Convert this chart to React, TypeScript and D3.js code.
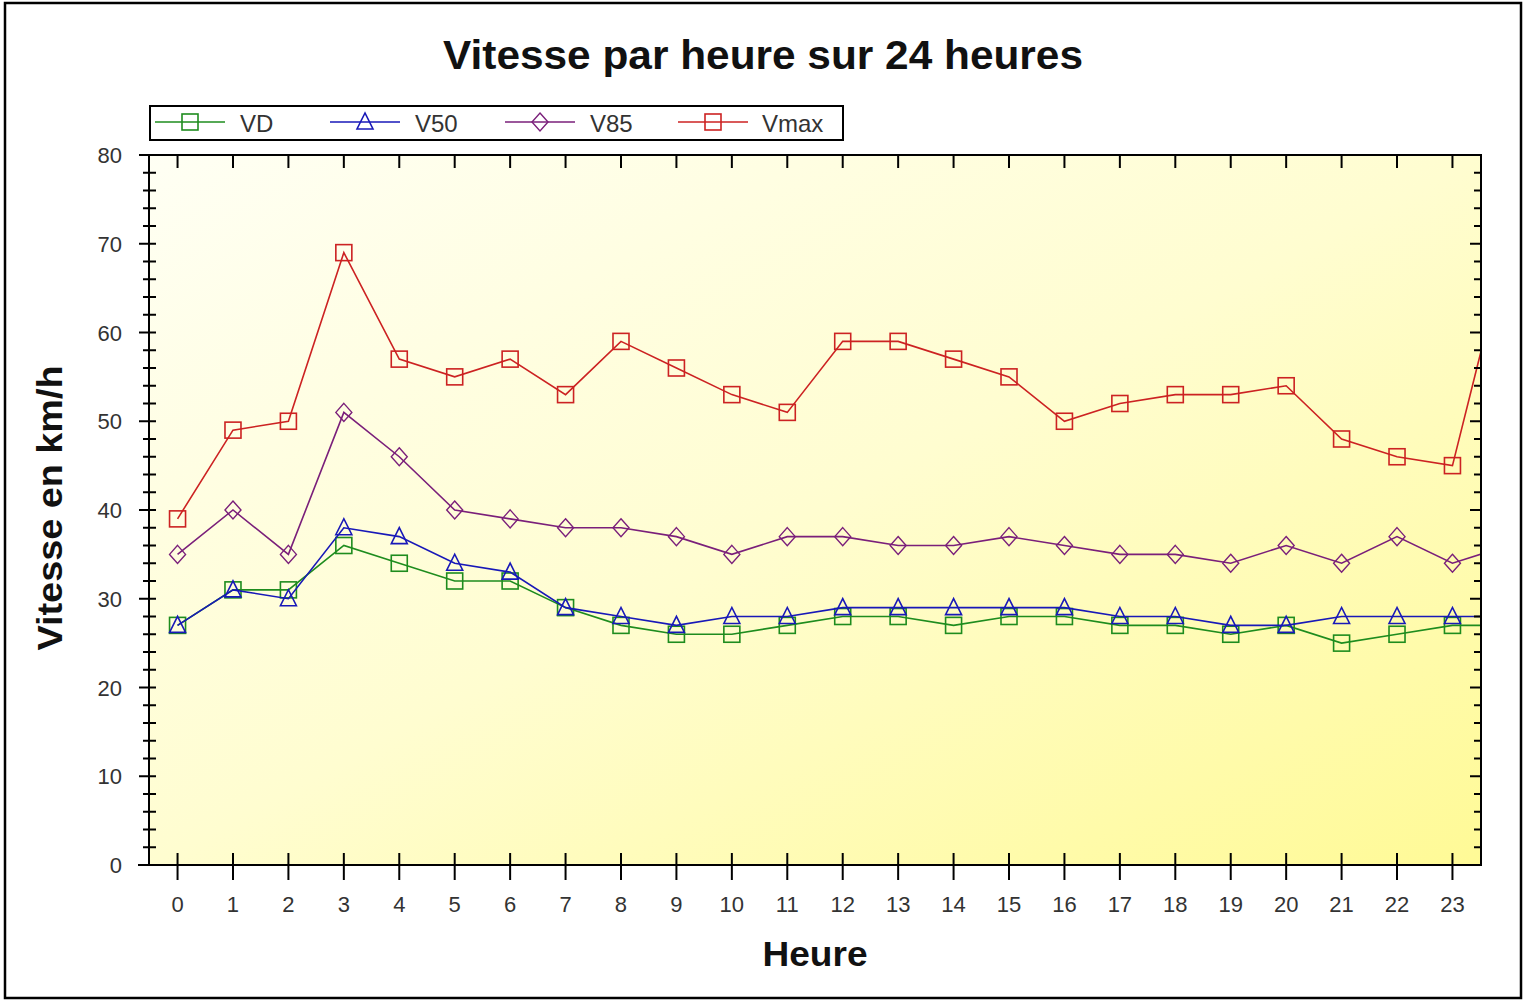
import React from "react";
import * as d3 from "d3";

const hours = d3.range(0, 25); // 0..23 plus a clipped 24th point
const hourTicks = d3.range(0, 24);
const yTicks = [0, 10, 20, 30, 40, 50, 60, 70, 80];

const VD = [27, 31, 31, 36, 34, 32, 32, 29, 27, 26, 26, 27, 28, 28, 27, 28, 28, 27, 27, 26, 27, 25, 26, 27, 27];
const V50 = [27, 31, 30, 38, 37, 34, 33, 29, 28, 27, 28, 28, 29, 29, 29, 29, 29, 28, 28, 27, 27, 28, 28, 28, 28];
const V85 = [35, 40, 35, 51, 46, 40, 39, 38, 38, 37, 35, 37, 37, 36, 36, 37, 36, 35, 35, 34, 36, 34, 37, 34, 36];
const Vmax = [39, 49, 50, 69, 57, 55, 57, 53, 59, 56, 53, 51, 59, 59, 57, 55, 50, 52, 53, 53, 54, 48, 46, 45, 70];

const seriesNames = ["VD", "V50", "V85", "Vmax"];
const seriesValues = [VD, V50, V85, Vmax];
const seriesColors = ["#1e8c1e", "#1818b8", "#7a1f7a", "#cc2222"];
const seriesMarkers = ["square", "triangle", "diamond", "square"];

const L = 149, R = 1481, T = 155, B = 865;

function Marker({ type, x, y, color }: { type: string; x: number; y: number; color: string }) {
  if (type === "square") {
    return <rect x={x - 8} y={y - 8} width={16} height={16} fill="none" stroke={color} strokeWidth={1.6} />;
  }
  if (type === "triangle") {
    const p = `${x},${y - 9} ${x - 8},${y + 7} ${x + 8},${y + 7}`;
    return <polygon points={p} fill="none" stroke={color} strokeWidth={1.6} />;
  }
  const p = `${x},${y - 9} ${x + 8},${y} ${x},${y + 9} ${x - 8},${y}`;
  return <polygon points={p} fill="none" stroke={color} strokeWidth={1.4} />;
}

export default function App() {
  const x = d3.scaleLinear().domain([-0.515, 23.515]).range([L, R]);
  const y = d3.scaleLinear().domain([0, 80]).range([B, T]);
  const line = d3.line<number>().x((_, i) => x(hours[i])).y((d) => y(d));
  const minor = d3.range(0, 81, 2).filter((v) => v % 10 !== 0);
  const font = "'Liberation Sans', Arial, sans-serif";

  const legendX = [155, 330, 505, 678];
  const legendTextX = [240, 415, 590, 762];

  return (
    <svg width={1525} height={1001} style={{ position: "absolute", left: 0, top: 0, background: "#fff" }} fontFamily={font}>
      <defs>
        <linearGradient id="bg" x1="0" y1="0" x2="1" y2="1">
          <stop offset="0" stopColor="#fffff4" />
          <stop offset="0.5" stopColor="#fffdd0" />
          <stop offset="1" stopColor="#fffa96" />
        </linearGradient>
        <clipPath id="clip">
          <rect x={L} y={T} width={R - L} height={B - T} />
        </clipPath>
      </defs>
      <rect x={5} y={3} width={1516} height={995} fill="#fff" stroke="#000" strokeWidth={2.5} />
      <text x={763} y={69} textAnchor="middle" fontSize={40} fontWeight="bold" fill="#111" textLength={640} lengthAdjust="spacingAndGlyphs">
        Vitesse par heure sur 24 heures
      </text>

      {/* Legend */}
      <rect x={150} y={106} width={693} height={34} fill="#fff" stroke="#000" strokeWidth={2} />
      {seriesNames.map((n, i) => (
        <g key={n}>
          <line x1={legendX[i]} x2={legendX[i] + 70} y1={122} y2={122} stroke={seriesColors[i]} strokeWidth={1.6} />
          <Marker type={seriesMarkers[i]} x={legendX[i] + 35} y={122} color={seriesColors[i]} />
          <text x={legendTextX[i]} y={132} fontSize={24} fill="#333">{n}</text>
        </g>
      ))}

      {/* Plot background */}
      <rect x={L} y={T} width={R - L} height={B - T} fill="url(#bg)" />

      {/* Series */}
      <g clipPath="url(#clip)">
        {seriesValues.map((vals, si) => (
          <g key={si}>
            <path d={line(vals) || ""} fill="none" stroke={seriesColors[si]} strokeWidth={1.6} />
            {vals.map((v, i) => (
              <Marker key={i} type={seriesMarkers[si]} x={x(hours[i])} y={y(v)} color={seriesColors[si]} />
            ))}
          </g>
        ))}
      </g>

      {/* Frame */}
      <rect x={L} y={T} width={R - L} height={B - T} fill="none" stroke="#000" strokeWidth={2} />
      <line x1={138} x2={L} y1={B} y2={B} stroke="#000" strokeWidth={2} />

      {/* Y ticks */}
      {yTicks.map((t) => (
        <g key={t}>
          <line x1={139} x2={156} y1={y(t)} y2={y(t)} stroke="#000" strokeWidth={2} />
          <line x1={R - 11} x2={R} y1={y(t)} y2={y(t)} stroke="#000" strokeWidth={2} />
          <text x={122} y={y(t) + 8} textAnchor="end" fontSize={22} fill="#333">{t}</text>
        </g>
      ))}
      {minor.map((t) => (
        <g key={t}>
          <line x1={143} x2={156} y1={y(t)} y2={y(t)} stroke="#000" strokeWidth={2} />
          <line x1={R - 7} x2={R} y1={y(t)} y2={y(t)} stroke="#000" strokeWidth={2} />
        </g>
      ))}

      {/* X ticks */}
      {hourTicks.map((h) => (
        <g key={h}>
          <line x1={x(h)} x2={x(h)} y1={B - 12} y2={B + 15} stroke="#000" strokeWidth={2} />
          <line x1={x(h)} x2={x(h)} y1={T} y2={T + 13} stroke="#000" strokeWidth={2} />
          <text x={x(h)} y={912} textAnchor="middle" fontSize={22} fill="#333">{h}</text>
        </g>
      ))}

      <text x={815} y={966} textAnchor="middle" fontSize={35} fontWeight="bold" fill="#111" textLength={105} lengthAdjust="spacingAndGlyphs">Heure</text>
      <text transform="translate(62,508) rotate(-90)" textAnchor="middle" fontSize={35} fontWeight="bold" fill="#111" textLength={285} lengthAdjust="spacingAndGlyphs">
        Vitesse en km/h
      </text>
    </svg>
  );
}
